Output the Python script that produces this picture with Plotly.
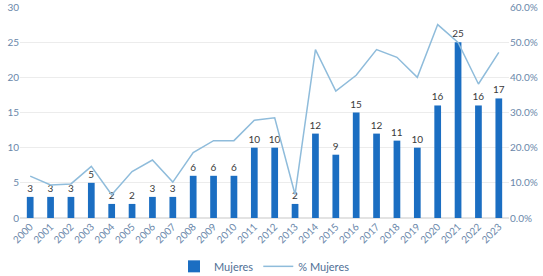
import plotly.graph_objects as go

years = [str(y) for y in range(2000, 2024)]
mujeres = [3, 3, 3, 5, 2, 2, 3, 3, 6, 6, 6, 10, 10, 2, 12, 9, 15, 12, 11, 10, 16, 25, 16, 17]
pct_mujeres = [0.119, 0.094, 0.097, 0.147, 0.066, 0.132, 0.165, 0.102, 0.186, 0.220, 0.220,
               0.278, 0.285, 0.067, 0.479, 0.361, 0.406, 0.479, 0.457, 0.400, 0.550, 0.499,
               0.381, 0.471]

tick_color = "#6a87aa"
font_family = "Lato, 'Noto Sans', sans-serif"

fig = go.Figure()
fig.add_trace(go.Bar(
    x=years, y=mujeres, name="Mujeres",
    marker=dict(color="#1b6ec2", line=dict(width=0)),
    text=[str(v) for v in mujeres], textposition="outside",
    textfont=dict(color="#3a3a3a", size=10, family=font_family),
    constraintext="none", cliponaxis=False,
))
fig.add_trace(go.Scatter(
    x=years, y=pct_mujeres, name="% Mujeres", yaxis="y2", mode="lines",
    line=dict(color="#8fbcdb", width=1.5),
))

fig.update_layout(
    width=543, height=276,
    margin=dict(l=20, r=34, t=7, b=58, autoexpand=False),
    paper_bgcolor="white", plot_bgcolor="white",
    font=dict(family=font_family, color=tick_color, size=10),
    bargap=0.67,
    showlegend=True,
    legend=dict(orientation="h", x=0.5, xanchor="center", yref="container", y=0.035,
                yanchor="middle", font=dict(size=11, color="#4f6f96"),
                traceorder="normal", itemwidth=30, tracegroupgap=0),
    xaxis=dict(type="category", tickangle=-45, showgrid=False, showline=False,
               ticks="", automargin=False, tickfont=dict(size=10, color=tick_color)),
    yaxis=dict(range=[0, 30], dtick=5, showgrid=True, gridcolor="#ececec",
               zeroline=True, zerolinecolor="#e3e3e3", ticks="", showline=False,
               automargin=False, ticklabeloverflow="allow",
               tickfont=dict(size=10, color=tick_color)),
    yaxis2=dict(range=[0, 0.6], dtick=0.1, tickformat=".1%", overlaying="y",
                side="right", showgrid=False, zeroline=False, ticks="",
                automargin=False, ticklabeloverflow="allow",
                tickfont=dict(size=10, color=tick_color)),
)

fig.write_html("out.html", config={"displayModeBar": False},
               post_script="document.body.style.margin='0px';document.body.style.overflow='hidden';")
